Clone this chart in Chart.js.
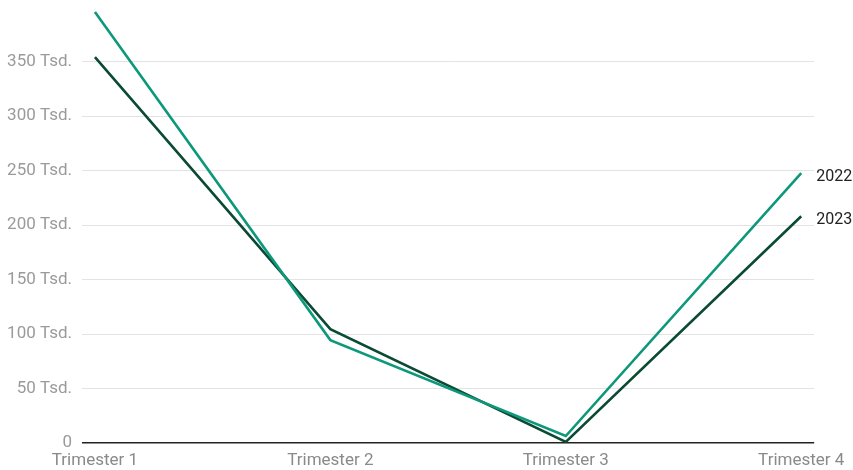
<!DOCTYPE html>
<html>
<head>
<meta charset="utf-8">
<script src="https://cdn.jsdelivr.net/npm/chart.js@4/dist/chart.umd.min.js"></script>
<style>
  html, body { margin: 0; padding: 0; background: #fff; }
  #wrap { width: 853px; height: 470px; position: relative; }
</style>
</head>
<body>
<div id="wrap"><canvas id="c"></canvas></div>
<script>
// Quarterly totals per year
const categories = ['Trimester 1', 'Trimester 2', 'Trimester 3', 'Trimester 4'];
const series2022 = [395500, 94400, 6400, 247500];
const series2023 = [354000, 104500, 1000, 208000];
const seriesNames = ['2022', '2023'];
const yTicks = [0, 50000, 100000, 150000, 200000, 250000, 300000, 350000];

const colors = ['#0e987b', '#0b4a33'];

function fmt(v) {
  return v === 0 ? '0' : (v / 1000) + ' Tsd.';
}

// Series names written next to the last point of each line
const endLabels = {
  id: 'endLabels',
  afterDatasetsDraw(chart) {
    const ctx = chart.ctx;
    ctx.save();
    ctx.font = '16px Roboto, "Noto Sans", sans-serif';
    ctx.fillStyle = '#222';
    ctx.textAlign = 'left';
    ctx.textBaseline = 'middle';
    chart.data.datasets.forEach((ds, i) => {
      const meta = chart.getDatasetMeta(i);
      const pt = meta.data[meta.data.length - 1];
      ctx.fillText(ds.label, pt.x + 15, pt.y + 3.5);
    });
    ctx.restore();
  }
};

const toPoints = arr => arr.map((v, i) => ({ x: i, y: v }));

new Chart(document.getElementById('c'), {
  type: 'line',
  data: {
    datasets: [
      { label: seriesNames[0], data: toPoints(series2022), borderColor: colors[0], borderWidth: 2.6, pointRadius: 0, tension: 0 },
      { label: seriesNames[1], data: toPoints(series2023), borderColor: colors[1], borderWidth: 2.6, pointRadius: 0, tension: 0 }
    ]
  },
  plugins: [endLabels],
  options: {
    responsive: true,
    maintainAspectRatio: false,
    animation: false,
    layout: { padding: { top: 7, right: 38, left: 0, bottom: 0 } },
    plugins: { legend: { display: false }, tooltip: { enabled: false } },
    scales: {
      x: {
        type: 'linear',
        min: -0.055,
        max: 3.055,
        afterBuildTicks(scale) { scale.ticks = categories.map((c, i) => ({ value: i })); },
        afterFit(scale) { scale.height = 27; },
        grid: { display: false, drawTicks: false },
        border: { display: false },
        ticks: {
          padding: 8,
          color: '#8a8a8a',
          font: { family: 'Roboto, "Noto Sans", sans-serif', size: 17 },
          maxRotation: 0,
          callback: v => categories[v]
        }
      },
      y: {
        min: 0,
        max: 400000,
        afterBuildTicks(scale) { scale.ticks = yTicks.map(v => ({ value: v })); },
        afterFit(scale) { scale.width = 82; scale.paddingTop = 0; scale.paddingBottom = 0; },
        border: { display: false },
        grid: {
          drawTicks: false,
          color: ctx => ctx.tick && ctx.tick.value === 0 ? '#222' : '#e3e3e3',
          lineWidth: ctx => ctx.tick && ctx.tick.value === 0 ? 1.5 : 1
        },
        ticks: {
          padding: 10,
          color: '#9a9a9a',
          font: { family: 'Roboto, "Noto Sans", sans-serif', size: 17 },
          callback: v => fmt(v)
        }
      }
    }
  }
});
</script>
</body>
</html>
